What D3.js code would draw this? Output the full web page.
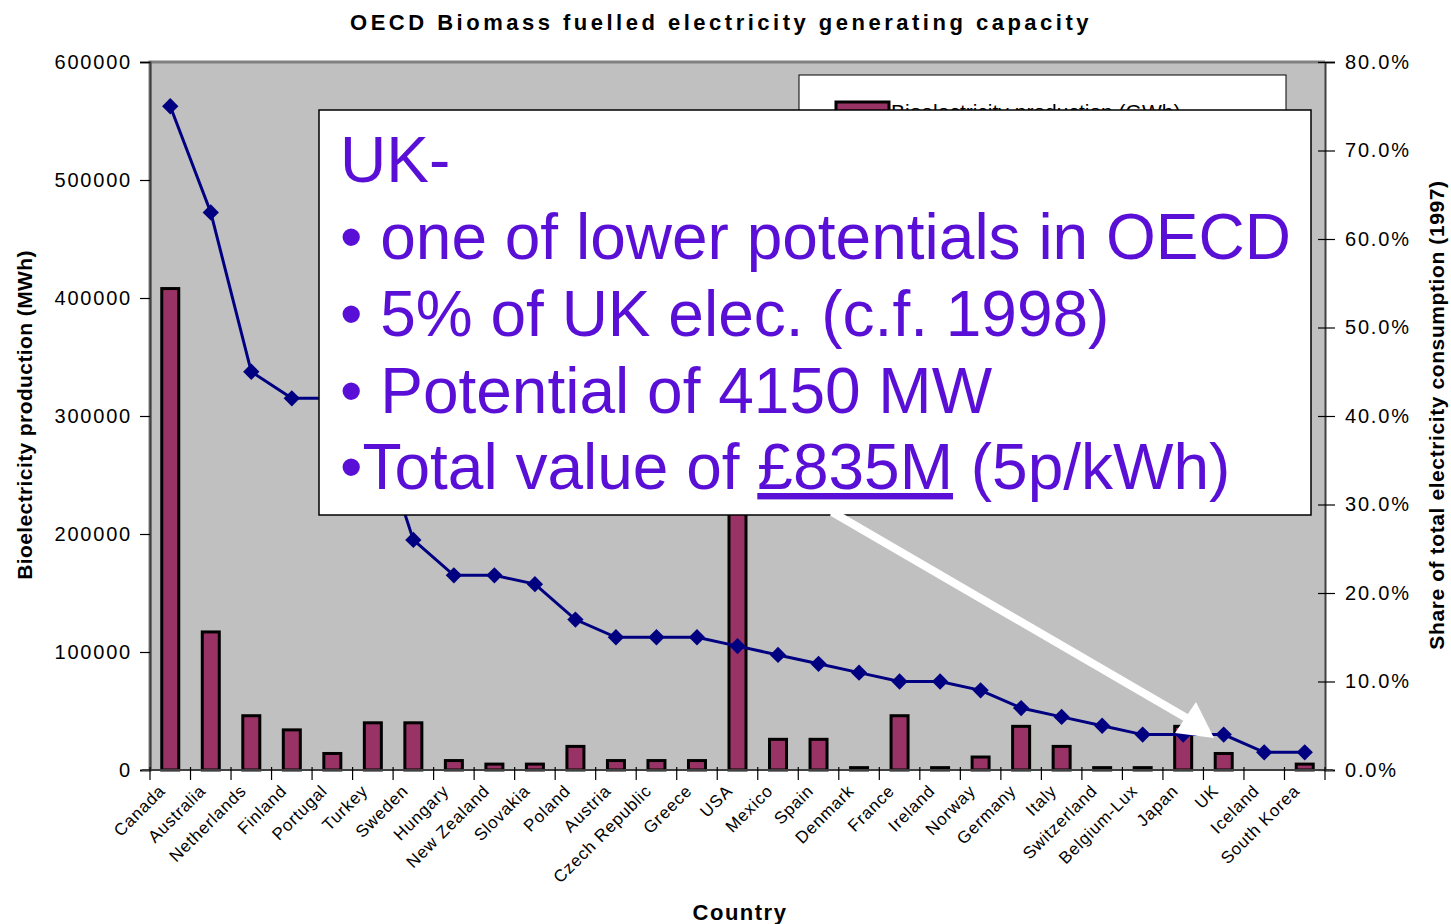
<!DOCTYPE html>
<html>
<head>
<meta charset="utf-8">
<script src="https://cdn.jsdelivr.net/npm/d3@7"></script>
<style>
body { margin: 0; background: #fff; }
svg { font-family: "Liberation Sans", Arial, sans-serif; }
</style>
</head>
<body>
<script>
// chart values

var countries = ['Canada', 'Australia', 'Netherlands', 'Finland', 'Portugal', 'Turkey', 'Sweden',
  'Hungary', 'New Zealand', 'Slovakia', 'Poland', 'Austria', 'Czech Republic', 'Greece', 'USA',
  'Mexico', 'Spain', 'Denmark', 'France', 'Ireland', 'Norway', 'Germany', 'Italy', 'Switzerland',
  'Belgium-Lux', 'Japan', 'UK', 'Iceland', 'South Korea'];

var production = [408000, 117000, 46000, 34000, 14000, 40000, 40000,
  8000, 5000, 5000, 20000, 8000, 8000, 8000, 300000,
  26000, 26000, 2000, 46000, 2000, 11000, 37000, 20000, 2000,
  2000, 37000, 14000, 0, 5000];

var share = [75, 63, 45, 42, 42, 40, 26,
  22, 22, 21, 17, 15, 15, 15, 14,
  13, 12, 11, 10, 10, 9, 7, 6, 5,
  4, 4, 4, 2, 2];

var leftTicks = [0, 100000, 200000, 300000, 400000, 500000, 600000];
var rightTicks = [0, 10, 20, 30, 40, 50, 60, 70, 80];

var noteLines = ['UK-', '\u2022 one of lower potentials in OECD', '\u2022 5% of UK elec. (c.f. 1998)',
  '\u2022 Potential of 4150 MW'];

var W = 1451, H = 924;
var plot = {left: 150, right: 1325, top: 62, bottom: 770};

var svg = d3.select('body').append('svg')
  .attr('width', W)
  .attr('height', H);

var x = d3.scaleBand().domain(countries).range([plot.left, plot.right]);
var yL = d3.scaleLinear().domain([0, 600000]).range([plot.bottom, plot.top]);
var yR = d3.scaleLinear().domain([0, 80]).range([plot.bottom, plot.top]);

// plot area
svg.append('rect')
  .attr('x', plot.left).attr('y', plot.top)
  .attr('width', plot.right - plot.left).attr('height', plot.bottom - plot.top)
  .attr('fill', '#c0c0c0');
svg.append('path')
  .attr('d', 'M' + plot.left + ',' + plot.bottom + 'V' + plot.top + 'H' + plot.right)
  .attr('fill', 'none').attr('stroke', '#808080').attr('stroke-width', 3);

// title
svg.append('text')
  .attr('x', 721).attr('y', 30)
  .attr('text-anchor', 'middle')
  .attr('font-size', 22).attr('font-weight', 'bold')
  .style('letter-spacing', '3.5px')
  .text('OECD Biomass fuelled electricity generating capacity');

// legend (mostly covered by the note box)
svg.append('rect')
  .attr('x', 799).attr('y', 75).attr('width', 487).attr('height', 120)
  .attr('fill', '#fff').attr('stroke', '#000').attr('stroke-width', 1);
svg.append('rect')
  .attr('x', 836).attr('y', 102).attr('width', 53).attr('height', 14)
  .attr('fill', '#993366').attr('stroke', '#000').attr('stroke-width', 3);
svg.append('text')
  .attr('x', 891).attr('y', 119)
  .attr('font-size', 21)
  .text('Bioelectricity production (GWh)');

// bars
var barW = 17;
svg.selectAll('rect.bar')
  .data(countries)
  .enter()
  .append('rect')
  .attr('class', 'bar')
  .attr('x', function(d) { return x(d) + x.bandwidth() / 2 - barW / 2; })
  .attr('y', function(d, i) { return yL(production[i]); })
  .attr('width', barW)
  .attr('height', function(d, i) { return plot.bottom - yL(production[i]); })
  .attr('fill', '#993366')
  .attr('stroke', '#000')
  .attr('stroke-width', 3);

// share line
var line = d3.line()
  .x(function(d, i) { return x(countries[i]) + x.bandwidth() / 2; })
  .y(function(d) { return yR(d); });

svg.append('path')
  .datum(share)
  .attr('d', line)
  .attr('fill', 'none')
  .attr('stroke', '#000080')
  .attr('stroke-width', 3);

svg.selectAll('path.marker')
  .data(share)
  .enter()
  .append('path')
  .attr('class', 'marker')
  .attr('d', d3.symbol().type(d3.symbolDiamond2).size(170))
  .attr('transform', function(d, i) {
    return 'translate(' + (x(countries[i]) + x.bandwidth() / 2) + ',' + yR(d) + ')';
  })
  .attr('fill', '#000080');

// axes
var leftAxis = svg.append('g')
  .attr('transform', 'translate(' + plot.left + ',0)')
  .call(d3.axisLeft(yL).tickValues(leftTicks).tickSize(10).tickPadding(8)
    .tickFormat(function(d) { return d; }));
var rightAxis = svg.append('g')
  .attr('transform', 'translate(' + plot.right + ',0)')
  .call(d3.axisRight(yR).tickValues(rightTicks).tickSize(10).tickPadding(10)
    .tickFormat(function(d) { return d.toFixed(1) + '%'; }));
[leftAxis, rightAxis].forEach(function(g) {
  g.select('.domain').attr('stroke', '#404040').attr('stroke-width', 2);
  g.selectAll('.tick line').attr('stroke', '#000').attr('stroke-width', 1.2);
  g.selectAll('.tick text')
    .attr('font-size', 20)
    .attr('font-family', '"Liberation Sans", Arial, sans-serif')
    .attr('fill', '#000')
    .style('letter-spacing', '1.8px');
});
rightAxis.selectAll('.tick line').attr('x1', -7);

var bottomAxis = svg.append('g')
  .attr('transform', 'translate(0,' + plot.bottom + ')');
bottomAxis.append('line')
  .attr('x1', plot.left - 8).attr('x2', plot.right + 8)
  .attr('stroke', '#404040').attr('stroke-width', 2);
bottomAxis.selectAll('line.tick')
  .data(countries.concat(['end']))
  .enter()
  .append('line')
  .attr('x1', function(d, i) { return plot.left + i * x.bandwidth(); })
  .attr('x2', function(d, i) { return plot.left + i * x.bandwidth(); })
  .attr('y1', -3).attr('y2', 10)
  .attr('stroke', '#000').attr('stroke-width', 1.2);
bottomAxis.selectAll('text')
  .data(countries)
  .enter()
  .append('text')
  .attr('transform', function(d) {
    return 'translate(' + (x(d) + x.bandwidth() / 2 - 4) + ',22) rotate(-45)';
  })
  .attr('text-anchor', 'end')
  .attr('font-size', 17)
  .style('letter-spacing', '0.8px')
  .text(function(d) { return d; });

// axis titles
svg.append('text')
  .attr('transform', 'translate(32,415) rotate(-90)')
  .attr('text-anchor', 'middle')
  .attr('font-size', 21).attr('font-weight', 'bold')
  .style('letter-spacing', '0.4px')
  .text('Bioelectricity production (MWh)');
svg.append('text')
  .attr('transform', 'translate(1444,415) rotate(-90)')
  .attr('text-anchor', 'middle')
  .attr('font-size', 21).attr('font-weight', 'bold')
  .style('letter-spacing', '0.6px')
  .text('Share of total electricity consumption (1997)');
svg.append('text')
  .attr('x', 740).attr('y', 920)
  .attr('text-anchor', 'middle')
  .attr('font-size', 22).attr('font-weight', 'bold')
  .style('letter-spacing', '1.5px')
  .text('Country');

// note box
svg.append('rect')
  .attr('x', 319).attr('y', 110).attr('width', 992).attr('height', 405)
  .attr('fill', '#fff').attr('stroke', '#000').attr('stroke-width', 1.5);

var purple = '#5a0fd7';
svg.selectAll('text.note')
  .data(noteLines)
  .enter()
  .append('text')
  .attr('class', 'note')
  .attr('x', 340)
  .attr('y', function(d, i) { return 182 + i * 77; })
  .attr('font-size', 64)
  .attr('fill', purple)
  .text(function(d) { return d; });

var last = svg.append('text')
  .attr('x', 340).attr('y', 489)
  .attr('font-size', 64)
  .attr('fill', purple);
last.append('tspan').text('\u2022Total value of ');
last.append('tspan').attr('text-decoration', 'underline').text('\u00a3835M');
last.append('tspan').text(' (5p/kWh)');

// white arrow to UK
svg.append('line')
  .attr('x1', 832).attr('y1', 512).attr('x2', 1190).attr('y2', 720)
  .attr('stroke', '#fff').attr('stroke-width', 8);
svg.append('path')
  .attr('d', 'M1214,738 L1175,733 L1196,702 Z')
  .attr('fill', '#fff');
</script>
</body>
</html>
